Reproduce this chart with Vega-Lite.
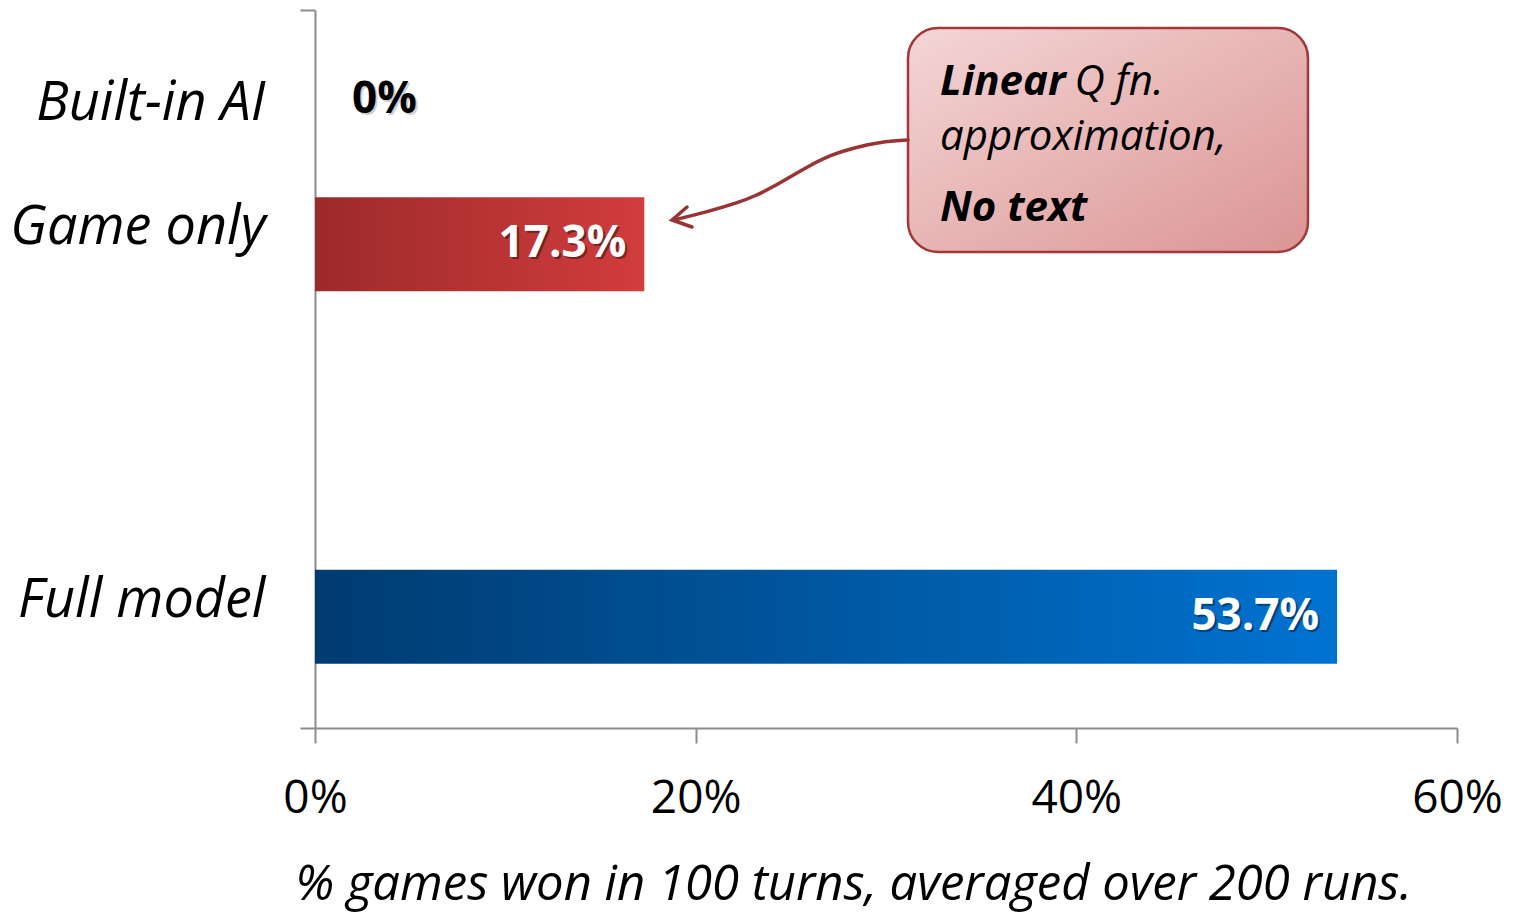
{
  "$schema": "https://vega.github.io/schema/vega-lite/v6.json",
  "width": 1142,
  "height": 718,
  "autosize": {"type": "none"},
  "padding": {"left": 315, "top": 10, "right": 66, "bottom": 185},
  "background": "white",
  "config": {"view": {"stroke": null}, "font": "Open Sans"},
  "datasets": {
    "bars": [
      {"category": "Built-in AI", "value": 0, "label": "0%"},
      {"category": "Game only", "value": 17.3, "label": "17.3%"},
      {"category": "Full model", "value": 53.7, "label": "53.7%"}
    ],
    "box": [{"x": 31.156, "x2": 52.171, "y": 0.0251, "y2": 0.337}],
    "boldText": [
      {"t": "Linear", "x": 32.837, "y": 0.1184},
      {"t": "No text", "x": 32.837, "y": 0.2939}
    ],
    "italicText": [
      {"t": "Q fn.", "x": 39.9, "y": 0.1184},
      {"t": "approximation,", "x": 32.837, "y": 0.195}
    ],
    "curve": [
      {"x": 31.156, "y": 0.1811, "o": 1},
      {"x": 29.685, "y": 0.1838, "o": 2},
      {"x": 28.476, "y": 0.1908, "o": 3},
      {"x": 27.058, "y": 0.2019, "o": 4},
      {"x": 25.849, "y": 0.2187, "o": 5},
      {"x": 24.956, "y": 0.2326, "o": 6},
      {"x": 24.063, "y": 0.2465, "o": 7},
      {"x": 23.117, "y": 0.2591, "o": 8},
      {"x": 22.329, "y": 0.2674, "o": 9},
      {"x": 20.595, "y": 0.2813, "o": 10},
      {"x": 18.86, "y": 0.2925, "o": 11}
    ],
    "head": [
      {"x": 19.545, "y": 0.2744, "o": 1},
      {"x": 18.757, "y": 0.2925, "o": 2},
      {"x": 19.807, "y": 0.3022, "o": 3}
    ]
  },
  "layer": [
    {
      "data": {"name": "bars"},
      "encoding": {
        "x": {
          "field": "value",
          "type": "quantitative",
          "scale": {"domain": [0, 60], "nice": false},
          "title": "% games won in 100 turns, averaged over 200 runs.",
          "axis": {
            "values": [0, 20, 40, 60],
            "labelExpr": "datum.value + '%'",
            "grid": false,
            "tickSize": 15,
            "tickWidth": 2,
            "tickColor": "#8c8c8c",
            "domainColor": "#8c8c8c",
            "domainWidth": 2,
            "labelFontSize": 46,
            "labelColor": "#000000",
            "labelFlush": false,
            "labelBaseline": "alphabetic",
            "labelPadding": 69,
            "titleFontSize": 49,
            "titleFontStyle": "italic",
            "titleFontWeight": "normal",
            "titleColor": "#000000",
            "titleX": 538,
            "titleY": 171,
            "titleBaseline": "alphabetic",
            "titleAlign": "center"
          }
        },
        "y": {
          "field": "category",
          "type": "nominal",
          "sort": null,
          "scale": {
            "type": "band",
            "domain": ["_a", "Built-in AI", "_1", "Game only", "_2", "_3", "_4", "_5", "_6", "Full model", "_b"],
            "paddingInner": 0,
            "paddingOuter": 0.2837,
            "align": 0.028
          },
          "axis": {
            "title": null,
            "ticks": false,
            "tickSize": 0,
            "labelPadding": 50,
            "labelFontSize": 54,
            "labelFontStyle": "italic",
            "labelColor": "#000000",
            "labelLimit": 500,
            "labelExpr": "indexof(datum.value, '_') === 0 ? '' : datum.value",
            "domainColor": "#8c8c8c",
            "domainWidth": 2,
            "grid": false
          }
        }
      },
      "layer": [
        {
          "transform": [{"filter": "datum.category === 'Game only'"}],
          "mark": {
            "type": "bar",
            "height": 94,
            "yOffset": 16,
            "fill": {"gradient": "linear", "x1": 0, "y1": 0, "x2": 1, "y2": 0,
              "stops": [{"offset": 0, "color": "#9c2a2b"}, {"offset": 1, "color": "#d23c3c"}]}
          }
        },
        {
          "transform": [{"filter": "datum.category === 'Full model'"}],
          "mark": {
            "type": "bar",
            "height": 94,
            "yOffset": 16,
            "fill": {"gradient": "linear", "x1": 0, "y1": 0, "x2": 1, "y2": 0,
              "stops": [{"offset": 0, "color": "#003b70"}, {"offset": 1, "color": "#0073d1"}]}
          }
        },
        {
          "transform": [{"filter": "datum.value > 0"}],
          "mark": {"type": "text", "align": "right", "baseline": "middle", "dx": -16, "dy": 2, "yOffset": 16,
            "fontSize": 44, "fontWeight": "bold", "color": "#000000", "opacity": 0.4},
          "encoding": {"text": {"field": "label"}}
        },
        {
          "transform": [{"filter": "datum.value > 0"}],
          "mark": {"type": "text", "align": "right", "baseline": "middle", "dx": -18, "yOffset": 16,
            "fontSize": 44, "fontWeight": "bold", "color": "#ffffff"},
          "encoding": {"text": {"field": "label"}}
        },
        {
          "transform": [{"filter": "datum.value === 0"}],
          "mark": {"type": "text", "align": "left", "baseline": "middle", "dx": 39, "dy": -2,
            "fontSize": 44, "fontWeight": "bold", "color": "#000000", "opacity": 0.18},
          "encoding": {"text": {"field": "label"}}
        },
        {
          "transform": [{"filter": "datum.value === 0"}],
          "mark": {"type": "text", "align": "left", "baseline": "middle", "dx": 37, "dy": -4,
            "fontSize": 44, "fontWeight": "bold", "color": "#000000"},
          "encoding": {"text": {"field": "label"}}
        }
      ]
    },
    {
      "encoding": {
        "x": {
          "field": "x",
          "type": "quantitative",
          "scale": {"domain": [0, 60], "nice": false},
          "title": "% games won in 100 turns, averaged over 200 runs.",
          "axis": {
            "values": [0, 20, 40, 60],
            "labelExpr": "datum.value + '%'",
            "grid": false,
            "tickSize": 15,
            "tickWidth": 2,
            "tickColor": "#8c8c8c",
            "domainColor": "#8c8c8c",
            "domainWidth": 2,
            "labelFontSize": 46,
            "labelColor": "#000000",
            "labelFlush": false,
            "labelBaseline": "alphabetic",
            "labelPadding": 69,
            "titleFontSize": 49,
            "titleFontStyle": "italic",
            "titleFontWeight": "normal",
            "titleColor": "#000000",
            "titleX": 538,
            "titleY": 171,
            "titleBaseline": "alphabetic",
            "titleAlign": "center"
          }
        },
        "y": {
          "field": "y",
          "type": "quantitative",
          "scale": {"domain": [0, 1], "reverse": true, "nice": false, "zero": false},
          "axis": {
            "orient": "left",
            "values": [0, 1],
            "labels": false,
            "domain": false,
            "grid": false,
            "title": null,
            "tickSize": 15,
            "tickWidth": 2,
            "tickColor": "#8c8c8c"
          }
        }
      },
      "layer": [
        {
          "data": {"name": "box"},
          "mark": {
            "type": "rect",
            "cornerRadius": 30,
            "stroke": "#a23838",
            "strokeWidth": 2.5,
            "fill": {"gradient": "linear", "x1": 0, "y1": 0, "x2": 1, "y2": 1,
              "stops": [{"offset": 0, "color": "#f4d6d6"}, {"offset": 1, "color": "#db9494"}]}
          },
          "encoding": {"x2": {"field": "x2"}, "y2": {"field": "y2"}}
        },
        {
          "data": {"name": "boldText"},
          "mark": {"type": "text", "align": "left", "baseline": "alphabetic", "fontSize": 42,
            "fontWeight": "bold", "fontStyle": "italic", "color": "#000000"},
          "encoding": {"text": {"field": "t"}}
        },
        {
          "data": {"name": "italicText"},
          "mark": {"type": "text", "align": "left", "baseline": "alphabetic", "fontSize": 42,
            "fontStyle": "italic", "color": "#000000"},
          "encoding": {"text": {"field": "t"}}
        },
        {
          "data": {"name": "curve"},
          "mark": {"type": "line", "interpolate": "basis", "stroke": "#9a3434", "strokeWidth": 3.5, "strokeCap": "round"},
          "encoding": {"order": {"field": "o", "type": "quantitative"}}
        },
        {
          "data": {"name": "head"},
          "mark": {"type": "line", "stroke": "#9a3434", "strokeWidth": 3.5, "strokeCap": "round", "strokeJoin": "miter"},
          "encoding": {"order": {"field": "o", "type": "quantitative"}}
        }
      ]
    }
  ],
  "resolve": {"scale": {"y": "independent"}, "axis": {"y": "independent"}}
}
